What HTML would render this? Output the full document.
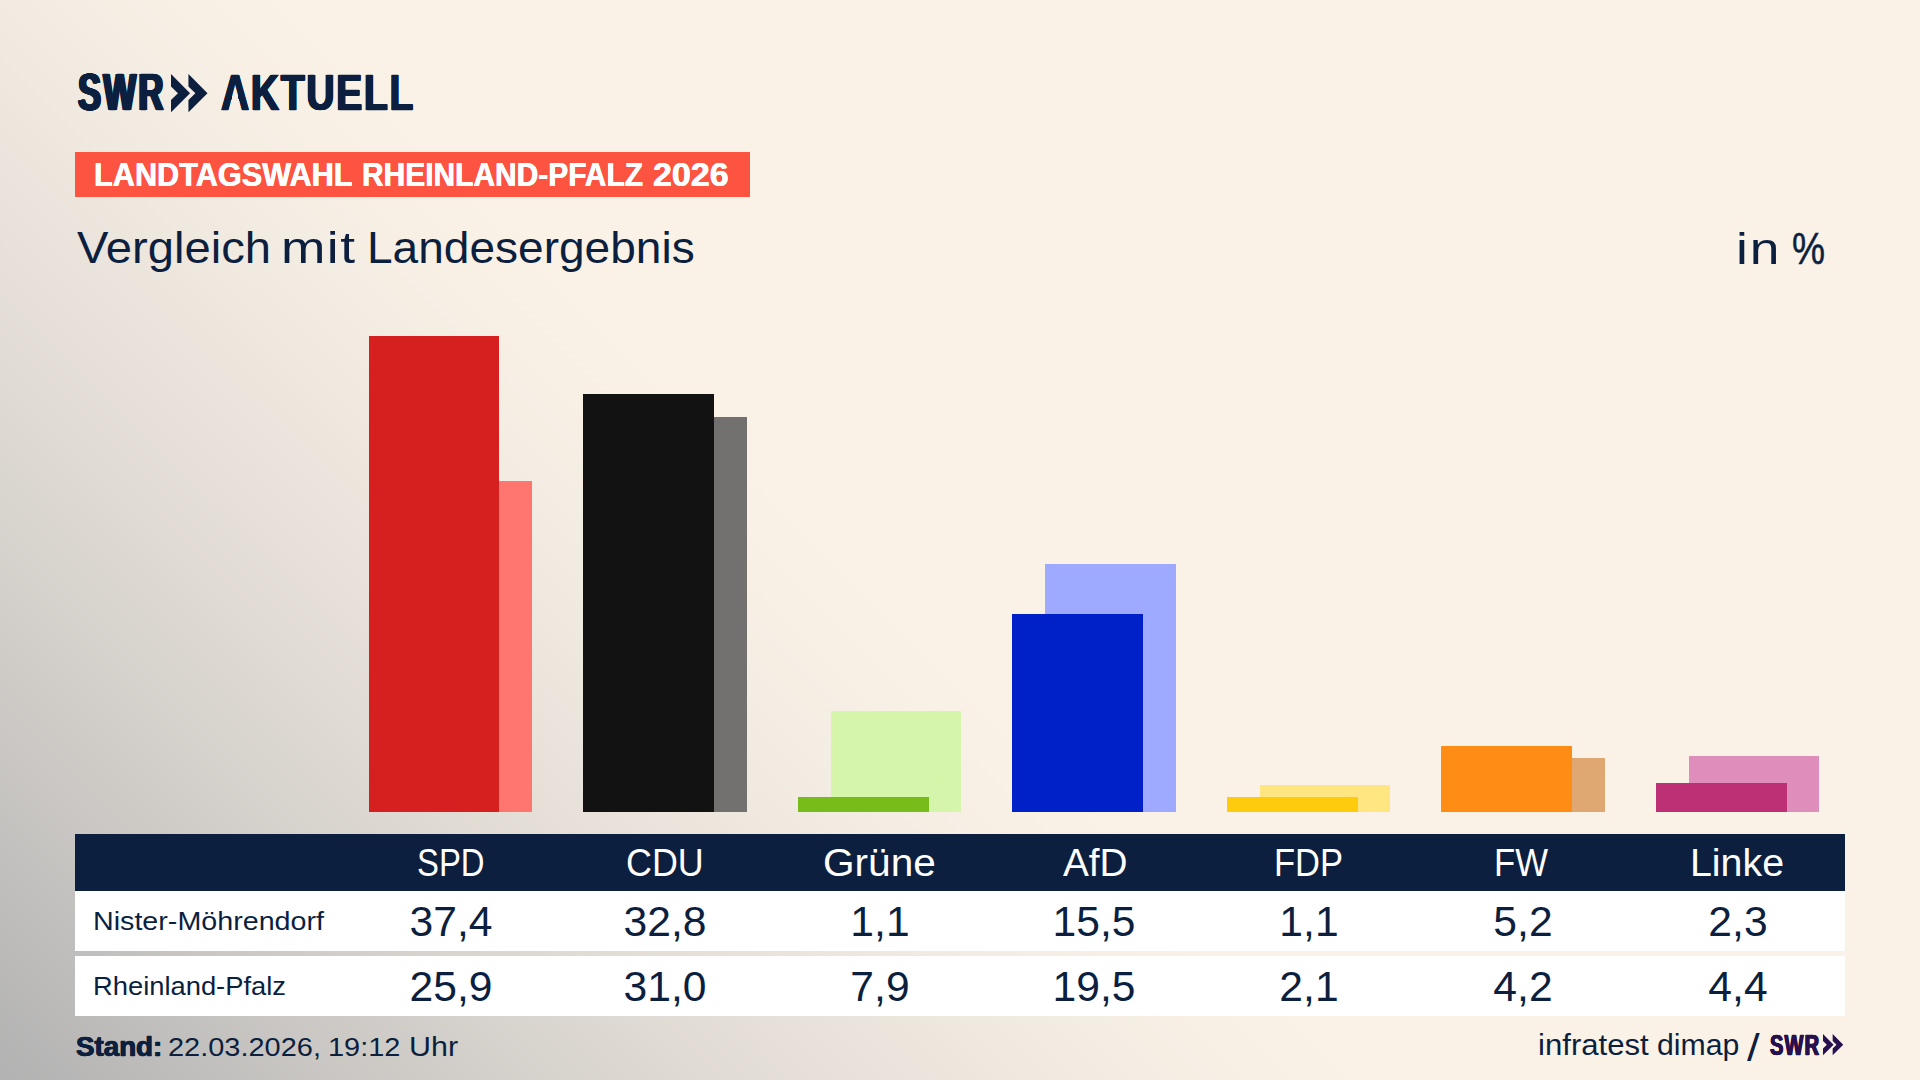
<!DOCTYPE html>
<html lang="de"><head><meta charset="utf-8"><title>SWR Aktuell – Landtagswahl Rheinland-Pfalz 2026</title>
<style>
html,body{margin:0;padding:0}
body{width:1920px;height:1080px;overflow:hidden;position:relative;font-family:"Liberation Sans", sans-serif;color:#0c1f3f;
background:linear-gradient(45deg,#b2b2b2 0.00%,#bab9b8 3.83%,#c2c0be 7.67%,#cac7c4 11.50%,#d1cec9 15.33%,#d8d4ce 19.17%,#dfdad3 23.00%,#e5dfd7 26.83%,#ebe4dc 30.67%,#f0e9df 34.50%,#f4ede3 38.33%,#f8f0e5 42.17%,#faf2e7 46.00%)}
.w{position:absolute;white-space:nowrap;line-height:1;transform-origin:0 0;display:block}
.v{position:absolute;width:200px;text-align:center;white-space:nowrap;line-height:1;font-size:41.8px;transform:scaleX(1.02);transform-origin:50% 0;display:block}
.bar{position:absolute}
.lam{display:inline-block;clip-path:polygon(evenodd,0 0,100% 0,100% 100%,0 100%,0 0,39.8% 53.5%,60.2% 53.5%,66.3% 68%,33.7% 68%,39.8% 53.5%)}
.chev{position:absolute;display:block}
.badge{position:absolute;left:75px;top:152px;width:675px;height:45px;background:#fd5442}
.thead{position:absolute;left:75px;top:834px;width:1770px;height:57px;background:#0c1f3f}
.row{position:absolute;left:75px;width:1770px;height:60px;background:#fff}
</style></head><body>
<header>
<div class="logo"><span class="w" style="left:77.98px;top:67.00px;font-size:51.0px;transform:scaleX(0.6764);font-weight:700;-webkit-text-stroke:0.5px #0c1f3f;letter-spacing:3.6px;text-shadow:0.50px 0 0 #0c1f3f,-0.50px 0 0 #0c1f3f,1.00px 0 0 #0c1f3f,-1.00px 0 0 #0c1f3f,1.50px 0 0 #0c1f3f,-1.50px 0 0 #0c1f3f,2.00px 0 0 #0c1f3f,-2.00px 0 0 #0c1f3f;">SWR</span> <span class="w" style="left:220.94px;top:68.00px;font-size:50.4px;transform:scaleX(0.7746);font-weight:700;-webkit-text-stroke:0.5px #0c1f3f;letter-spacing:2.2px;text-shadow:0.37px 0 0 #0c1f3f,-0.37px 0 0 #0c1f3f,0.73px 0 0 #0c1f3f,-0.73px 0 0 #0c1f3f,1.10px 0 0 #0c1f3f,-1.10px 0 0 #0c1f3f;"><span class="lam" style="letter-spacing:0;margin-right:2.2px">A</span>KTUELL</span><svg class="chev" style="left:171.25px;top:73.5px" width="38.00" height="38.30" viewBox="0 0 38 38.3"><polygon points="0,0 19.05,19.2 0,38.3 0,26 6.95,19.2 0,12.4" fill="#0c1f3f"/><polygon points="0,0 19.05,19.2 0,38.3 0,26 6.95,19.2 0,12.4" transform="translate(17.45,0)" fill="#0c1f3f"/></svg></div>
<div class="badge"></div><h2 style="margin:0;font-weight:inherit;font-size:inherit"><span class="w" style="left:93.85px;top:158.00px;font-size:33.9px;transform:scaleX(0.9055);font-weight:700;color:#ffffff;text-shadow:0.30px 0 0 #ffffff,-0.30px 0 0 #ffffff;">LANDTAGSWAHL</span> <span class="w" style="left:361.89px;top:158.00px;font-size:33.9px;transform:scaleX(0.8831);font-weight:700;color:#ffffff;text-shadow:0.30px 0 0 #ffffff,-0.30px 0 0 #ffffff;">RHEINLAND-PFALZ</span> <span class="w" style="left:653.44px;top:158.00px;font-size:33.9px;transform:scaleX(1.0039);font-weight:700;color:#ffffff;text-shadow:0.30px 0 0 #ffffff,-0.30px 0 0 #ffffff;">2026</span></h2>
<h1 style="margin:0;font-weight:inherit;font-size:inherit"><span class="w" style="left:76.80px;top:226.00px;font-size:44.5px;transform:scaleX(1.0595);">Vergleich</span> <span class="w" style="left:280.67px;top:226.00px;font-size:44.5px;transform:scaleX(1.1982);letter-spacing:1.2px;">mit</span> <span class="w" style="left:367.20px;top:226.00px;font-size:44.5px;transform:scaleX(1.0346);">Landesergebnis</span></h1>
<div class="unit"><span class="w" style="left:1735.86px;top:227.00px;font-size:44.5px;transform:scaleX(1.1991);letter-spacing:1.5px;">in</span> <span class="w" style="left:1792.15px;top:227.00px;font-size:44.5px;transform:scaleX(0.8353);-webkit-text-stroke:0.5px #0c1f3f;">%</span></div>
</header>
<main>
<div class="chart"><div class="bar" style="left:402px;top:481px;width:130px;height:331px;background:#ff7670"></div><div class="bar" style="left:369px;top:336px;width:130px;height:476px;background:#d61f1f"></div><div class="bar" style="left:616px;top:417px;width:131px;height:395px;background:#73716f"></div><div class="bar" style="left:583px;top:394px;width:131px;height:418px;background:#121212"></div><div class="bar" style="left:831px;top:711px;width:130px;height:101px;background:#d5f5ab"></div><div class="bar" style="left:798px;top:797px;width:131px;height:15px;background:#78bc1b"></div><div class="bar" style="left:1045px;top:564px;width:131px;height:248px;background:#9daaff"></div><div class="bar" style="left:1012px;top:614px;width:131px;height:198px;background:#0021c8"></div><div class="bar" style="left:1260px;top:785px;width:130px;height:27px;background:#ffe680"></div><div class="bar" style="left:1227px;top:797px;width:131px;height:15px;background:#ffcc0d"></div><div class="bar" style="left:1474px;top:758px;width:131px;height:54px;background:#dfa873"></div><div class="bar" style="left:1441px;top:746px;width:131px;height:66px;background:#ff8c14"></div><div class="bar" style="left:1689px;top:756px;width:130px;height:56px;background:#df8dbb"></div><div class="bar" style="left:1656px;top:783px;width:131px;height:29px;background:#be3075"></div></div>
<div class="thead"></div><div class="row" style="top:891px"></div><div class="row" style="top:956px"></div>
<div class="th"><span class="w" style="left:416.57px;top:843.00px;font-size:39.6px;transform:scaleX(0.8298);color:#ffffff;">SPD</span> <span class="w" style="left:625.52px;top:843.00px;font-size:39.6px;transform:scaleX(0.9062);color:#ffffff;">CDU</span> <span class="w" style="left:823.10px;top:843.00px;font-size:39.6px;transform:scaleX(1.0253);color:#ffffff;">Grüne</span> <span class="w" style="left:1062.70px;top:843.00px;font-size:39.6px;transform:scaleX(0.9793);color:#ffffff;">AfD</span> <span class="w" style="left:1274.00px;top:843.00px;font-size:39.6px;transform:scaleX(0.8731);color:#ffffff;">FDP</span> <span class="w" style="left:1493.99px;top:843.00px;font-size:39.6px;transform:scaleX(0.8770);color:#ffffff;">FW</span> <span class="w" style="left:1690.23px;top:843.00px;font-size:39.6px;transform:scaleX(0.9937);color:#ffffff;">Linke</span></div>
<div class="tr"><span class="w" style="left:93.25px;top:909.00px;font-size:25.6px;transform:scaleX(1.1201);">Nister-Möhrendorf</span><span class="v" style="left:350.75px;top:901.00px">37,4</span><span class="v" style="left:565.25px;top:901.00px">32,8</span><span class="v" style="left:779.75px;top:901.00px">1,1</span><span class="v" style="left:994.25px;top:901.00px">15,5</span><span class="v" style="left:1208.75px;top:901.00px">1,1</span><span class="v" style="left:1423.25px;top:901.00px">5,2</span><span class="v" style="left:1637.75px;top:901.00px">2,3</span></div>
<div class="tr"><span class="w" style="left:93.36px;top:974.00px;font-size:25.6px;transform:scaleX(1.0681);">Rheinland-Pfalz</span><span class="v" style="left:350.75px;top:966.00px">25,9</span><span class="v" style="left:565.25px;top:966.00px">31,0</span><span class="v" style="left:779.75px;top:966.00px">7,9</span><span class="v" style="left:994.25px;top:966.00px">19,5</span><span class="v" style="left:1208.75px;top:966.00px">2,1</span><span class="v" style="left:1423.25px;top:966.00px">4,2</span><span class="v" style="left:1637.75px;top:966.00px">4,4</span></div>
</main>
<footer>
<div class="fl"><span class="w" style="left:76.40px;top:1032.00px;font-size:28.3px;transform:scaleX(0.9799);font-weight:700;-webkit-text-stroke:0.5px #0c1f3f;text-shadow:0.50px 0 0 #0c1f3f,-0.50px 0 0 #0c1f3f;">Stand:</span> <span class="w" style="left:168.24px;top:1034.00px;font-size:26.7px;transform:scaleX(1.0849);">22.03.2026,</span> <span class="w" style="left:327.99px;top:1034.00px;font-size:26.7px;transform:scaleX(1.0833);">19:12</span> <span class="w" style="left:409.00px;top:1033.00px;font-size:28.0px;transform:scaleX(1.0872);">Uhr</span></div>
<div class="fr"><span class="w" style="left:1537.55px;top:1031.00px;font-size:29.0px;transform:scaleX(1.0735);">infratest</span> <span class="w" style="left:1657.16px;top:1031.00px;font-size:29.0px;transform:scaleX(1.0416);">dimap</span> <span class="w" style="left:1746.90px;top:1029.00px;font-size:38.0px;transform:scaleX(1.1977);">/</span> <span class="w" style="left:1770.04px;top:1031.00px;font-size:29.0px;transform:scaleX(0.6907);font-weight:700;color:#28104f;-webkit-text-stroke:0.3px #28104f;letter-spacing:1.7px;text-shadow:0.40px 0 0 #28104f,-0.40px 0 0 #28104f,0.80px 0 0 #28104f,-0.80px 0 0 #28104f;">SWR</span><svg class="chev" style="left:1823.4px;top:1034.4px" width="21.09" height="21.26" viewBox="0 0 38 38.3"><polygon points="0,0 19.05,19.2 0,38.3 0,26 6.95,19.2 0,12.4" fill="#28104f"/><polygon points="0,0 19.05,19.2 0,38.3 0,26 6.95,19.2 0,12.4" transform="translate(17.45,0)" fill="#28104f"/></svg></div>
</footer>
</body></html>
